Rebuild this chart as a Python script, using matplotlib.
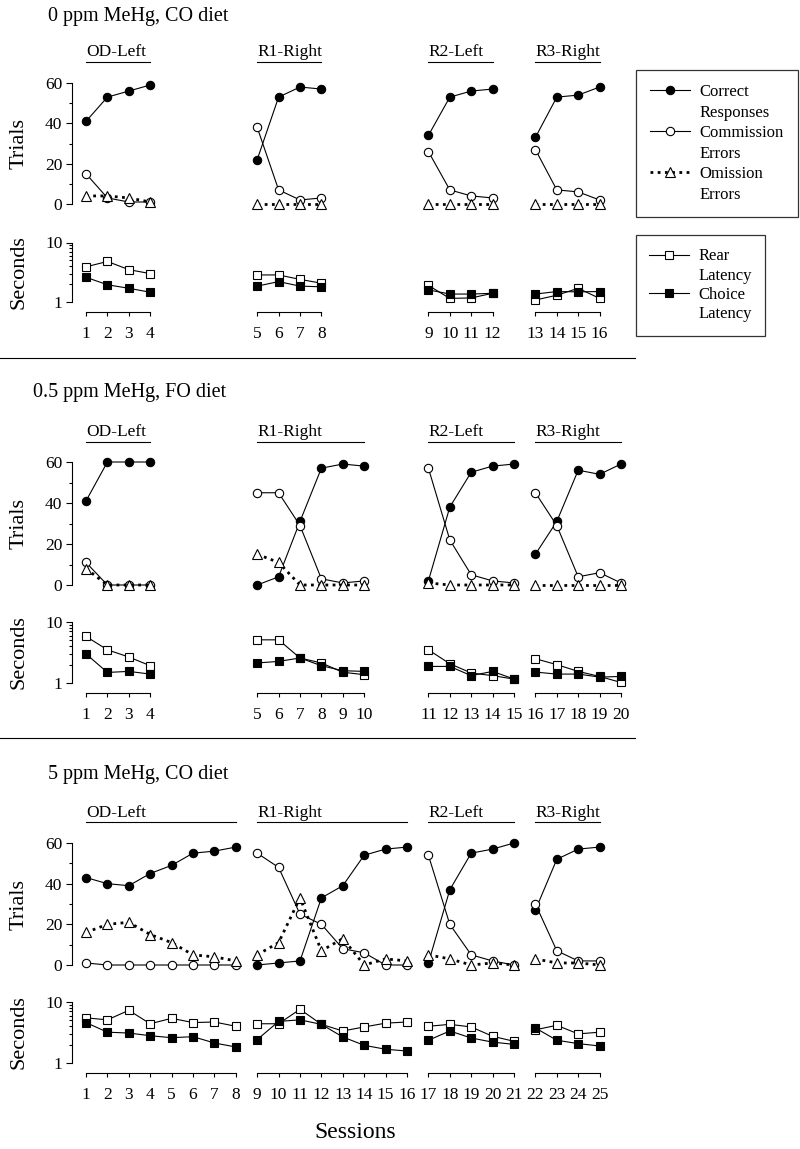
import numpy as np
import matplotlib.pyplot as plt
from matplotlib.lines import Line2D
from matplotlib.ticker import FixedLocator, LogLocator, NullFormatter

plt.rcParams['font.family'] = ['Liberation Serif', 'DejaVu Serif']

W, H = 800, 1149

group_names = ["OD-Left", "R1-Right", "R2-Left", "R3-Right"]

# ---- 0 ppm MeHg, CO diet
p1_sessions = [[1, 2, 3, 4], [5, 6, 7, 8], [9, 10, 11, 12], [13, 14, 15, 16]]
p1_correct = [[41, 53, 56, 59], [22, 53, 58, 57], [34, 53, 56, 57], [33, 53, 54, 58]]
p1_commission = [[15, 3, 1, 1], [38, 7, 2, 3], [26, 7, 4, 3], [27, 7, 6, 2]]
p1_omission = [[4, 4, 3, 1], [0, 0, 0, 0], [0, 0, 0, 0], [0, 0, 0, 0]]
p1_rear = [[3.9, 4.8, 3.5, 3.0], [2.85, 2.85, 2.4, 2.07], [1.9, 1.15, 1.17, 1.4], [1.08, 1.3, 1.7, 1.15]]
p1_choice = [[2.6, 1.95, 1.7, 1.46], [1.85, 2.2, 1.85, 1.8], [1.6, 1.36, 1.36, 1.4], [1.36, 1.5, 1.48, 1.5]]

# ---- 0.5 ppm MeHg, FO diet
p2_sessions = [[1, 2, 3, 4], [5, 6, 7, 8, 9, 10], [11, 12, 13, 14, 15], [16, 17, 18, 19, 20]]
p2_correct = [[41, 60, 60, 60], [0, 4, 31, 57, 59, 58], [2, 38, 55, 58, 59], [15, 31, 56, 54, 59]]
p2_commission = [[11, 0, 0, 0], [45, 45, 29, 3, 1, 2], [57, 22, 5, 2, 1], [45, 29, 4, 6, 1]]
p2_omission = [[8, 0, 0, 0], [15, 11, 0, 0, 0, 0], [1, 0, 0, 0, 0], [0, 0, 0, 0, 0]]
p2_rear = [[5.8, 3.5, 2.67, 1.92], [5.1, 5.1, 2.57, 2.13, 1.5, 1.37],
           [3.5, 2.07, 1.46, 1.32, 1.16], [2.5, 2.0, 1.55, 1.28, 1.02]]
p2_choice = [[3.0, 1.49, 1.55, 1.4], [2.13, 2.26, 2.57, 1.92, 1.59, 1.55],
             [1.87, 1.87, 1.32, 1.55, 1.16], [1.51, 1.4, 1.4, 1.25, 1.28]]

# ---- 5 ppm MeHg, CO diet
p3_sessions = [[1, 2, 3, 4, 5, 6, 7, 8], [9, 10, 11, 12, 13, 14, 15, 16],
               [17, 18, 19, 20, 21], [22, 23, 24, 25]]
p3_correct = [[43, 40, 39, 45, 49, 55, 56, 58], [0, 1, 2, 33, 39, 54, 57, 58],
              [1, 37, 55, 57, 60], [27, 52, 57, 58]]
p3_commission = [[1, 0, 0, 0, 0, 0, 0, 0], [55, 48, 25, 20, 8, 6, 0, 0],
                 [54, 20, 5, 2, 0], [30, 7, 2, 2]]
p3_omission = [[16, 20, 21, 15, 11, 5, 4, 2], [5, 11, 33, 7, 13, 0, 3, 2],
               [5, 3, 0, 1, 0], [3, 1, 1, 0]]
p3_rear = [[5.5, 5.1, 7.3, 4.4, 5.4, 4.6, 4.7, 4.0], [4.4, 4.4, 7.6, 4.3, 3.35, 3.9, 4.5, 4.7],
           [4.0, 4.3, 3.9, 2.74, 2.27], [3.5, 4.15, 3.0, 3.2]]
p3_choice = [[4.6, 3.2, 3.1, 2.8, 2.6, 2.7, 2.13, 1.83], [2.42, 4.8, 5.1, 4.3, 2.67, 1.95, 1.68, 1.57],
             [2.36, 3.35, 2.57, 2.2, 2.02], [3.75, 2.36, 2.08, 1.9]]

panels = [
    dict(title="0 ppm MeHg, CO diet", sessions=p1_sessions, correct=p1_correct,
         commission=p1_commission, omission=p1_omission, rear=p1_rear, choice=p1_choice,
         title_xy=(48, 16), glabel=52, gline=62, trials=(83, 204), secs=(242.5, 302)),
    dict(title="0.5 ppm MeHg, FO diet", sessions=p2_sessions, correct=p2_correct,
         commission=p2_commission, omission=p2_omission, rear=p2_rear, choice=p2_choice,
         title_xy=(33, 393), glabel=432, gline=442, trials=(462, 585), secs=(622, 683)),
    dict(title="5 ppm MeHg, CO diet", sessions=p3_sessions, correct=p3_correct,
         commission=p3_commission, omission=p3_omission, rear=p3_rear, choice=p3_choice,
         title_xy=(48, 775), glabel=813, gline=822, trials=(843, 965), secs=(1002, 1063)),
]

# styles
st_correct = dict(color='k', lw=0.8, marker='o', ms=6, mfc='k', mec='k', mew=0.8)
st_comm = dict(color='k', lw=0.8, marker='o', ms=6, mfc='white', mec='k', mew=0.8)
st_omit = dict(color='k', lw=2.0, ls=(0, (1, 1.6)), marker='^', ms=6.5, mfc='white', mec='k', mew=0.8)
st_rear = dict(color='k', lw=0.8, marker='s', ms=5.5, mfc='white', mec='k', mew=0.8)
st_choice = dict(color='k', lw=0.8, marker='s', ms=5.5, mfc='k', mec='k', mew=0.8)

X0, DX = 86, 21.4
slots = [0, 8, 16, 21]
TICK_FS = 12.5


def fx(px):
    return px / W


def fy(py):
    return 1 - py / H


fig = plt.figure(figsize=(W / 100, H / 100), dpi=100)

for p in panels:
    fig.text(fx(p['title_xy'][0]), fy(p['title_xy'][1]), p['title'], fontsize=14.5,
             ha='left', va='center')
    t0, t1 = p['trials']
    s0, s1 = p['secs']
    fig.text(fx(19), fy((t0 + t1) / 2), 'Trials', rotation=90, fontsize=16, ha='center', va='center')
    fig.text(fx(19), fy((s0 + s1) / 2), 'Seconds', rotation=90, fontsize=16, ha='center', va='center')

    for g in range(4):
        sess = p['sessions'][g]
        left = X0 + DX * slots[g]
        width = DX * (len(sess) - 1)

        # group label with underline
        fig.text(fx(left), fy(p['glabel']), group_names[g], fontsize=12.5, ha='left', va='center')
        fig.add_artist(Line2D([fx(left), fx(left + width)], [fy(p['gline'])] * 2, color='k', lw=0.8))

        # trials
        ax = fig.add_axes([fx(left), fy(t1), width / W, (t1 - t0) / H])
        ax.plot(sess, p['correct'][g], clip_on=False, zorder=3, **st_correct)
        ax.plot(sess, p['commission'][g], clip_on=False, zorder=4, **st_comm)
        ax.plot(sess, p['omission'][g], clip_on=False, zorder=5, **st_omit)
        ax.set_xlim(sess[0], sess[-1])
        ax.set_ylim(0, 60)
        ax.patch.set_visible(False)
        for s in ['top', 'right', 'bottom']:
            ax.spines[s].set_visible(False)
        ax.set_xticks([])
        if g == 0:
            ax.spines['left'].set_position(('outward', 10))
            ax.spines['left'].set_linewidth(0.8)
            ax.set_yticks([0, 20, 40, 60])
            ax.yaxis.set_minor_locator(FixedLocator([10, 30, 50]))
            ax.tick_params(axis='y', which='major', length=4, width=0.8, labelsize=TICK_FS, pad=3)
            ax.tick_params(axis='y', which='minor', length=2.5, width=0.8)
        else:
            ax.spines['left'].set_visible(False)
            ax.set_yticks([])

        # seconds
        ax2 = fig.add_axes([fx(left), fy(s1), width / W, (s1 - s0) / H])
        ax2.plot(sess, p['rear'][g], clip_on=False, zorder=3, **st_rear)
        ax2.plot(sess, p['choice'][g], clip_on=False, zorder=4, **st_choice)
        ax2.set_yscale('log')
        ax2.set_xlim(sess[0], sess[-1])
        ax2.set_ylim(1, 10)
        ax2.patch.set_visible(False)
        for s in ['top', 'right']:
            ax2.spines[s].set_visible(False)
        ax2.spines['bottom'].set_position(('outward', 7.5))
        ax2.spines['bottom'].set_linewidth(0.8)
        ax2.set_xticks(sess)
        ax2.set_xticklabels([str(s) for s in sess])
        ax2.tick_params(axis='x', length=3, width=0.8, labelsize=TICK_FS, pad=7)
        if g == 0:
            ax2.spines['left'].set_position(('outward', 10))
            ax2.spines['left'].set_linewidth(0.8)
            ax2.yaxis.set_major_locator(FixedLocator([1, 10]))
            ax2.set_yticklabels(['1', '10'])
            ax2.yaxis.set_minor_locator(LogLocator(base=10, subs=np.arange(2, 10)))
            ax2.yaxis.set_minor_formatter(NullFormatter())
            ax2.tick_params(axis='y', which='major', length=4, width=0.8, labelsize=TICK_FS, pad=3)
            ax2.tick_params(axis='y', which='minor', length=2.5, width=0.8)
        else:
            ax2.spines['left'].set_visible(False)
            ax2.set_yticks([])
            ax2.yaxis.set_minor_locator(FixedLocator([]))

# panel separators
for ysep in [358, 738]:
    fig.add_artist(Line2D([0, fx(635)], [fy(ysep)] * 2, color='k', lw=0.8))

fig.text(fx(355), fy(1133), 'Sessions', fontsize=17, ha='center', va='center')

# legends
blank = Line2D([], [], ls='none')
h1 = [Line2D([], [], **st_correct), blank, Line2D([], [], **st_comm), blank,
      Line2D([], [], **st_omit), blank]
l1 = ['Correct', 'Responses', 'Commission', 'Errors', 'Omission', 'Errors']
leg1 = fig.legend(h1, l1, loc='upper left', bbox_to_anchor=(fx(636), fy(70)),
                  fontsize=12, frameon=True, fancybox=False, edgecolor='k',
                  handlelength=2.4, handletextpad=0.55, labelspacing=0.27,
                  borderpad=0.85, borderaxespad=0)
leg1.get_frame().set_linewidth(0.9)

h2 = [Line2D([], [], **st_rear), blank, Line2D([], [], **st_choice), blank]
l2 = ['Rear', 'Latency', 'Choice', 'Latency']
leg2 = fig.legend(h2, l2, loc='upper left', bbox_to_anchor=(fx(636), fy(235)),
                  fontsize=12, frameon=True, fancybox=False, edgecolor='k',
                  handlelength=2.4, handletextpad=0.55, labelspacing=0.2,
                  borderpad=0.8, borderaxespad=0)
leg2.get_frame().set_linewidth(0.9)

fig.savefig('out.png', dpi=100)
